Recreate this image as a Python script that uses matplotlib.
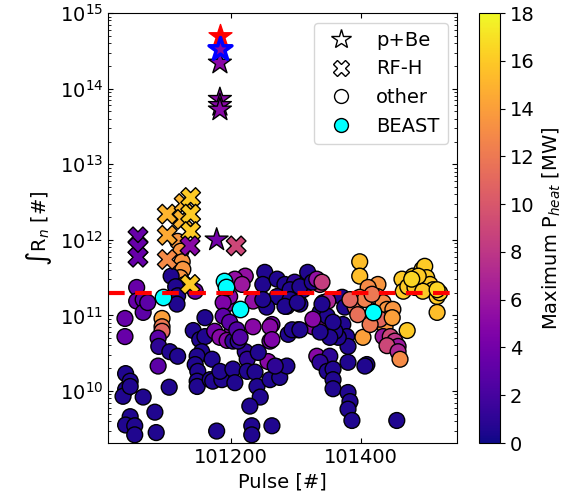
import matplotlib
matplotlib.use('Agg')
import matplotlib.pyplot as plt
import numpy as np
from matplotlib.lines import Line2D
from matplotlib.ticker import MultipleLocator, LogLocator, NullFormatter

plt.rcParams['font.size'] = 14

# "other" pulses, split by region: pulse number, log10 of int R_n, max heating power [MW]
left_pulse = [101037, 101037, 101055, 101055, 101065, 101065, 101072,
              101094, 101094, 101094, 101088, 101089, 101106, 101118, 101088,
              101105, 101038, 101045, 101038, 101034, 101045, 101065, 101083,
              101045, 101038, 101052, 101052, 101085,
              101118, 101123, 101125, 101126, 101122, 101129,
              101108, 101115, 101118, 101117]
left_logrn = [10.96, 10.72, 11.37, 11.19, 11.21, 11.04, 11.17,
              10.96, 10.85, 10.79, 10.70, 10.59, 10.52, 10.46, 10.33,
              10.05, 10.23, 10.13, 10.02, 9.93, 10.06, 9.92, 9.72,
              9.66, 9.55, 9.54, 9.42, 9.45,
              11.98, 11.85, 11.71, 11.61, 11.50, 11.41,
              11.52, 11.38, 11.26, 11.15]
left_power = [3.5, 3.5, 3.5, 3.5, 3, 3, 3,
              14, 12, 11, 3, 1, 0.5, 0.5, 3,
              0.5, 0.5, 0.5, 0.5, 0.5, 0.5, 0.5, 0.5,
              0.5, 0.5, 0.5, 0.5, 0.5,
              13.5, 13.5, 13.5, 13.5, 13.5, 13.5,
              0.5, 0.5, 0.5, 0.5]

mid_pulse = [101145, 101160, 101142, 101152, 101160, 101155, 101148, 101145,
             101149, 101148, 101148, 101171, 101168, 101172, 101186, 101183, 101178,
             101175, 101194, 101202, 101183, 101194, 101234, 101263, 101260, 101257, 101271,
             101203, 101222, 101225, 101242, 101203, 101206, 101225, 101237, 101240,
             101245, 101229, 101232, 101232, 101263, 101260, 101275, 101286, 101268, 101211,
             101222, 101206, 101217, 101198, 101188, 101234, 101260, 101263,
             101252, 101249, 101271, 101283, 101298, 101317, 101302, 101286, 101271,
             101255, 101249, 101286, 101306, 101311,
             101188, 101198, 101209, 101214]
mid_logrn = [11.32, 10.97, 10.80, 10.68, 10.72, 10.52, 10.46, 10.35,
             10.26, 10.13, 10.06, 10.42, 10.15, 10.13, 10.15, 10.26, 9.47,
             10.79, 11.15, 10.79, 10.71, 10.67, 10.85, 10.88, 10.66, 10.39, 10.32,
             10.66, 10.52, 10.42, 10.51, 10.29, 10.11, 10.26, 10.25, 10.06,
             9.92, 9.80, 9.54, 9.42, 9.54, 10.15, 10.18, 10.33, 10.33, 10.66,
             11.52, 11.48, 11.41, 11.25, 11.17, 11.19, 10.85, 10.68,
             11.57, 11.41, 11.48, 11.41, 11.44, 11.44, 11.25, 11.21, 11.25,
             11.11, 11.21, 11.12, 11.15, 11.34,
             10.99, 10.91, 10.81, 10.71]
mid_power = [3.5, 0.5, 0.5, 0.5, 0.5, 0.5, 0.5, 0.5,
             0.5, 0.5, 0.5, 0.5, 0.5, 0.5, 0.5, 0.5, 0.5,
             4, 5, 5, 5, 5, 5, 4, 4, 5, 5,
             1, 1, 1, 0.5, 0.5, 0.5, 0.5, 0.5, 0.5,
             0.5, 0.5, 0.5, 0.5, 0.5, 0.5, 0.5, 0.5, 1, 1,
             5.5, 5.5, 6, 5, 4.5, 5.5, 5, 4.5,
             0.5, 0.5, 0.5, 0.5, 1, 0.5, 0.5, 0.5, 0.5,
             0.5, 0.5, 0.5, 0.5, 0.5,
             3, 3, 2.5, 2.5]

right_pulse = [101332, 101352, 101337, 101348, 101357, 101357, 101357, 101380,
               101383, 101380, 101386, 101455, 101409, 101406, 101380,
               101371, 101375, 101372, 101378, 101380, 101365, 101360,
               101326, 101345, 101342, 101337, 101349,
               101288, 101303, 101318, 101291, 101306, 101325, 101332,
               101291, 101283, 101302, 101337, 101348, 101357, 101340,
               101294, 101306, 101352, 101337, 101340, 101326]
right_logrn = [10.46, 10.46, 10.38, 10.26, 10.29, 10.15, 10.03, 9.98,
               9.86, 9.76, 9.61, 9.61, 10.35, 10.33, 10.38,
               11.24, 11.11, 10.88, 10.72, 10.59, 10.71, 10.79,
               10.85, 10.88, 11.17, 11.41, 11.19,
               10.75, 10.81, 11.57, 11.34, 11.38, 11.44, 11.48,
               11.21, 11.12, 11.17, 11.04, 10.99, 10.91, 11.15,
               10.81, 10.81, 10.71, 10.78, 11.44, 10.95]
right_power = [5, 1, 1, 0.5, 0.5, 0.5, 0.5, 0.5,
               0.5, 0.5, 0.5, 0.5, 0.5, 0.5, 0.5,
               0.5, 0.5, 0.5, 0.5, 0.5, 0.5, 0.5,
               5, 5.5, 8, 8.5, 7,
               0.5, 0.5, 0.5, 0.5, 0.5, 0.5, 5.5,
               0.5, 0.5, 0.5, 0.5, 0.5, 0.5, 0.5,
               0.5, 0.5, 0.5, 0.5, 8.5, 5]

hot_pulse = [101398, 101398, 101426, 101411, 101398, 101391, 101395, 101406,
             101425, 101434, 101440, 101449, 101441, 101437, 101429, 101403,
             101471, 101434, 101445, 101452, 101457, 101440, 101457, 101460,
             101417, 101383, 101448, 101414,
             101463, 101465, 101472, 101480, 101483, 101494, 101498, 101501,
             101506, 101511, 101517, 101521, 101495, 101488, 101517, 101478, 101517]
hot_logrn = [11.71, 11.52, 11.41, 11.37, 11.24, 11.11, 11.01, 11.21,
             11.25, 11.17, 11.08, 11.08, 10.95, 10.85, 10.95, 10.71,
             10.80, 10.72, 10.72, 10.66, 10.59, 10.60, 10.52, 10.42,
             11.28, 11.21, 10.97, 10.88,
             11.48, 11.32, 11.38, 11.52, 11.37, 11.61, 11.65, 11.50,
             11.41, 11.34, 11.25, 11.30, 11.32, 11.52, 11.04, 11.48, 11.34]
hot_power = [15.5, 15.5, 13.5, 13, 12.5, 11.5, 11.5, 12.5,
             13, 13, 13.5, 13.5, 13, 13.5, 11, 14,
             16, 6, 9, 8, 6, 9, 7, 13,
             12, 11, 14, 12,
             16, 16, 16, 16, 16, 16, 16, 16,
             16, 16, 16, 16, 16, 16, 15.5, 16.5, 16.5]

# RF-H pulses
rfh_pulse = [101057, 101057, 101057, 101102, 101102, 101102,
             101128, 101126, 101138, 101138, 101138, 101137, 101137, 101208]
rfh_logrn = [12.04, 11.90, 11.77, 12.34, 12.06, 11.74,
             12.48, 12.27, 12.56, 12.34, 12.11, 11.92, 11.41, 11.92]
rfh_power = [3.5, 3.5, 3.5, 15, 14.5, 13,
             15, 15, 16, 16, 16, 5, 16, 9]

# p+Be pulses
pbe_pulse = [101183, 101183, 101183, 101183, 101178]
pbe_logrn = [14.34, 13.86, 13.78, 13.72, 12.00]
pbe_power = [5, 5, 5, 5, 4]
pbe_red = (101183, 14.70)
pbe_blue = (101183, 14.52, 5)

# BEAST pulses
beast_pulse = [101095, 101189, 101192, 101214, 101418]
beast_logrn = [11.24, 11.45, 11.37, 11.09, 11.04]

threshold = 2e11

other_pulse = left_pulse + mid_pulse + right_pulse + hot_pulse
other_rn = 10 ** np.array(left_logrn + mid_logrn + right_logrn + hot_logrn)
other_power = left_power + mid_power + right_power + hot_power

fig = plt.figure(figsize=(5.81, 5.04), dpi=100)
ax = fig.add_axes([0.186, 0.121, 0.601, 0.853])
cax = fig.add_axes([0.824, 0.121, 0.037, 0.853])

kw = dict(cmap='plasma', vmin=0, vmax=18, edgecolors='k', linewidths=1)
sc = ax.scatter(other_pulse, other_rn, c=other_power, marker='o', s=130, **kw)
ax.scatter(rfh_pulse, 10 ** np.array(rfh_logrn), c=rfh_power, marker='X', s=200, **kw)
ax.scatter(pbe_pulse, 10 ** np.array(pbe_logrn), c=pbe_power, marker='*', s=300, **kw)
ax.scatter([pbe_red[0]], [10 ** pbe_red[1]], marker='*', s=300, color='red',
           edgecolors='red', linewidths=1)
ax.scatter([pbe_blue[0]], [10 ** pbe_blue[1]], c=[pbe_blue[2]], marker='*', s=300,
           cmap='plasma', vmin=0, vmax=18, edgecolors='blue', linewidths=2.5)
ax.scatter(beast_pulse, 10 ** np.array(beast_logrn), marker='o', s=140,
           color='cyan', edgecolors='k', linewidths=1)

ax.axhline(threshold, color='red', ls='--', lw=3, dashes=(4, 2.5))

ax.set_yscale('log')
ax.set_ylim(2.05e9, 1e15)
ax.set_xlim(101011, 101548)
ax.xaxis.set_major_locator(MultipleLocator(200))
ax.yaxis.set_major_locator(LogLocator(base=10, numticks=10))
ax.yaxis.set_minor_locator(LogLocator(base=10, subs=np.arange(2, 10), numticks=10))
ax.yaxis.set_minor_formatter(NullFormatter())
ax.tick_params(which='both', direction='in', top=True, right=True)
ax.set_xlabel('Pulse [#]')
ax.set_ylabel(r'$\int$R$_n$ [#]')

handles = [
    Line2D([], [], marker='*', ls='', markersize=15, markerfacecolor='white', markeredgecolor='k'),
    Line2D([], [], marker='X', ls='', markersize=12, markerfacecolor='white', markeredgecolor='k'),
    Line2D([], [], marker='o', ls='', markersize=10, markerfacecolor='white', markeredgecolor='k'),
    Line2D([], [], marker='o', ls='', markersize=10, markerfacecolor='cyan', markeredgecolor='k'),
]
ax.legend(handles, ['p+Be', 'RF-H', 'other', 'BEAST'], loc='upper right', fontsize=14)

cb = fig.colorbar(sc, cax=cax, ticks=np.arange(0, 19, 2))
cb.set_label('Maximum P$_{heat}$ [MW]')

fig.savefig('out.png', dpi=100)
